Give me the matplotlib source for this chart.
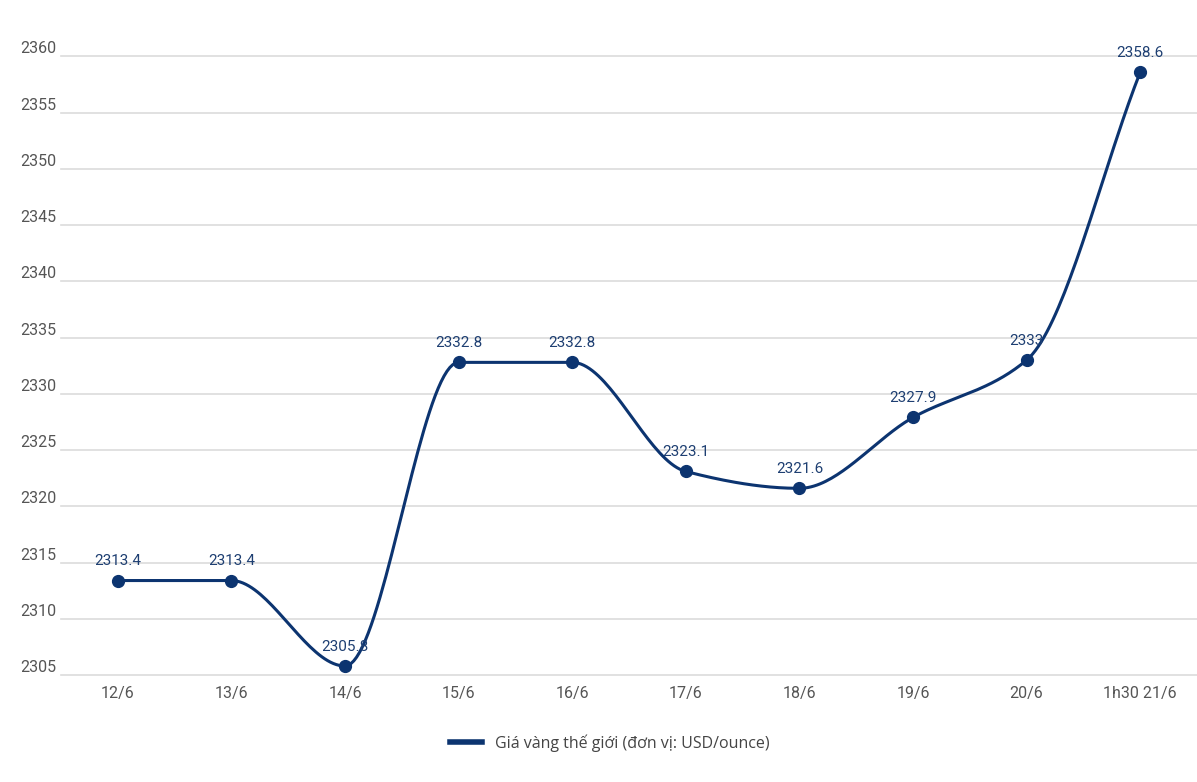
import numpy as np
import matplotlib
matplotlib.use("Agg")
import matplotlib.pyplot as plt
from matplotlib.lines import Line2D

# data
dates = ['12/6', '13/6', '14/6', '15/6', '16/6', '17/6', '18/6', '19/6', '20/6', '1h30 21/6']
prices = [2313.4, 2313.4, 2305.8, 2332.8, 2332.8, 2323.1, 2321.6, 2327.9, 2333, 2358.6]
value_labels = ['2313.4', '2313.4', '2305.8', '2332.8', '2332.8', '2323.1', '2321.6', '2327.9', '2333', '2358.6']
y_ticks = [2305, 2310, 2315, 2320, 2325, 2330, 2335, 2340, 2345, 2350, 2355, 2360]

navy = '#0c3470'
label_col = '#1e3f72'
grid_col = '#dcdcdc'
text_col = '#555555'

plt.rcParams['font.family'] = ['Roboto', 'DejaVu Sans']


def monotone_curve(x, y, n=40):
    # Fritsch-Carlson monotone cubic, only used to draw the smooth line
    x = np.asarray(x, float)
    y = np.asarray(y, float)
    h = np.diff(x)
    d = np.diff(y) / h
    m = np.zeros_like(y)
    m[0], m[-1] = d[0], d[-1]
    for i in range(1, len(y) - 1):
        if d[i - 1] * d[i] <= 0:
            m[i] = 0
        else:
            m[i] = 3 * (h[i - 1] + h[i]) / ((2 * h[i] + h[i - 1]) / d[i - 1] + (h[i] + 2 * h[i - 1]) / d[i])
    xs, ys = [], []
    for i in range(len(x) - 1):
        t = np.linspace(0, 1, n)
        h00 = 2 * t**3 - 3 * t**2 + 1
        h10 = t**3 - 2 * t**2 + t
        h01 = -2 * t**3 + 3 * t**2
        h11 = t**3 - t**2
        xs.append(x[i] + t * h[i])
        ys.append(h00 * y[i] + h10 * h[i] * m[i] + h01 * y[i + 1] + h11 * h[i] * m[i + 1])
    return np.concatenate(xs), np.concatenate(ys)


fig = plt.figure(figsize=(11.97, 7.82), dpi=100)
ax = fig.add_axes([61 / 1197, 107 / 782, 1136 / 1197, (748 - 107) / 782])

x = np.arange(len(dates))
cx, cy = monotone_curve(x, prices)
ax.plot(cx, cy, color=navy, lw=2.2, zorder=3, solid_capstyle='round')
ax.plot(x, prices, 'o', color=navy, ms=8.5, zorder=4)

for xi, yi, lab in zip(x, prices, value_labels):
    ax.annotate(lab, (xi, yi), xytext=(0, 9), textcoords='offset points',
                ha='center', va='bottom', fontsize=11, color=label_col, zorder=5)

ax.set_xlim(-0.5, len(dates) - 0.5)
ax.set_ylim(2305, 2362)

for t in y_ticks:
    ax.axhline(t, color=grid_col, lw=1.2, zorder=1, clip_on=False)
    ax.text(-41 / 1136, t, str(t), transform=ax.get_yaxis_transform(),
            ha='left', va='bottom', fontsize=11.5, color=text_col)

ax.set_yticks([])
ax.set_xticks(x)
ax.set_xticklabels(dates, fontsize=11.5, color=text_col)
ax.tick_params(axis='x', length=0, pad=8)
for s in ax.spines.values():
    s.set_visible(False)

handle = Line2D([0], [0], color=navy, lw=4)
fig.legend([handle], ['Giá vàng thế giới (đơn vị: USD/ounce)'], loc='center',
           bbox_to_anchor=(610 / 1197, 1 - 743 / 782), frameon=False,
           prop={'family': ['Open Sans', 'DejaVu Sans'], 'size': 11.5},
           handlelength=2.0, labelcolor='#444444')

fig.savefig('out.png', dpi=100)
